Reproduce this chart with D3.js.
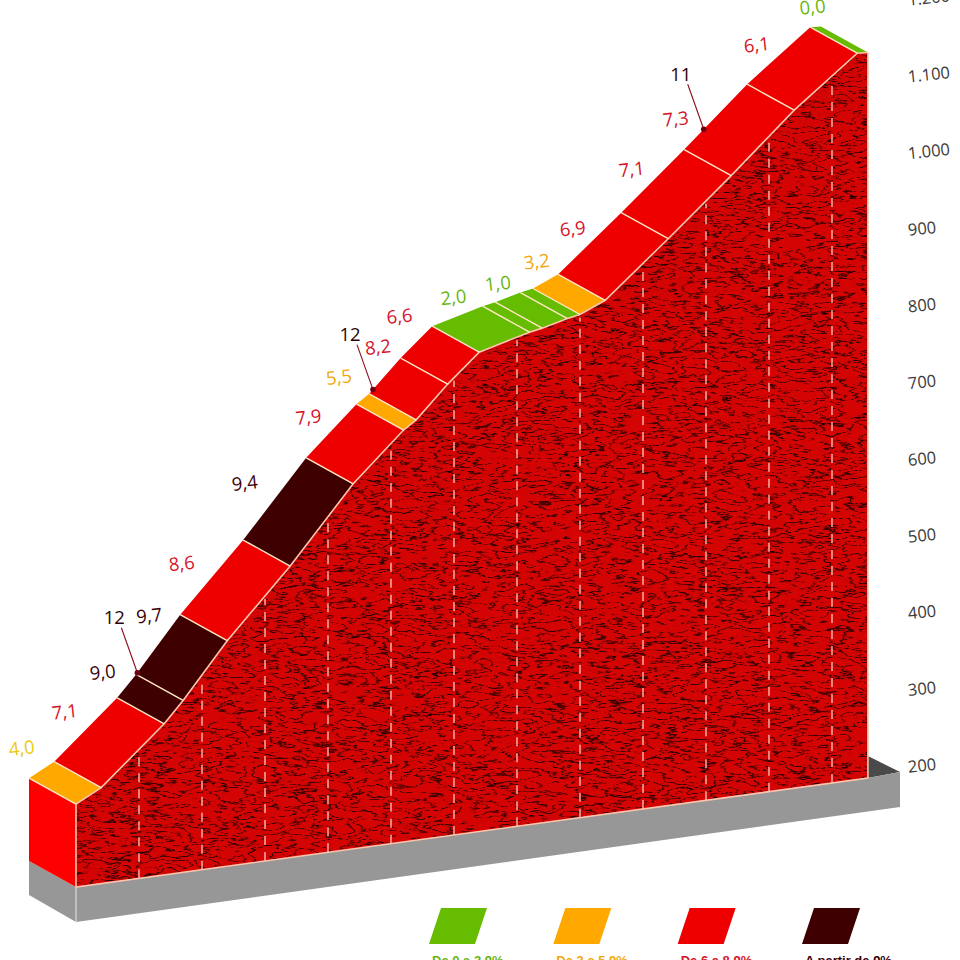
<!DOCTYPE html>
<html><head><meta charset="utf-8">
<script src="https://cdn.jsdelivr.net/npm/d3@7"></script>
<style>html,body{margin:0;padding:0;background:#fff;overflow:hidden}svg{display:block}</style>
</head><body><svg id="c" width="960" height="960"></svg>
<script>
// ---- data ----
const pointKm   = [0,0.4,1.4,1.7,2.4,3.4,4.4,5.2,5.4,5.9,6.4,7.2,7.4,7.8,8.0,8.4,9.4,10.4,11.4,12.4,12.57];
const pointElev = [308,325,397,424,494,580,676,737,748,789,825,842,845,853,856,870,939,1010,1084,1147,1146];
const gradeLabels = ["4,0","7,1","9,0","9,7","8,6","9,4","7,9","5,5","8,2","6,6","2,0","","1,0","","3,2","6,9","7,1","7,3","6,1","0,0"];
const gradeClass  = ["o","r","d","d","r","d","r","o","r","r","g","g","g","g","o","r","r","r","r","g"];
const kmTicks = [1,2,3,4,5,6,7,8,9,10,11,12];
const elevTicks = [200,300,400,500,600,700,800,900,1000,1100,1200];
const peakKm = [1.72,5.46,10.71];
const peakLabels = ["12","12","11"];
const legendLabels = ["De 0 a 2,9%","De 3 a 5,9%","De 6 a 8,9%","A partir de 9%"];
const legendClass = ["g","o","r","d"];

// ---- layout and style ----
const colors = {g:"#66bc00",o:"#ffa800",r:"#ee0000",d:"#3e0000"};
const textColors = {g:"#6ab510",o:"#f2a80c",r:"#d5142a",d:"#3a0208"};
const labelOffsets = [[-20,-22],[-21,-18],[-24,-14],[-9,-29],[-30,-14],[-30,-16],[-23,-14],[-24,-22],[-7,-29],[-17,-26],[-4,-19],[0,0],[-10,-14],[0,0],[-9,-20],[-17,-15],[-21,-12],[-40,2],[-22,-11],[-3,-20]];
const depth = [-47,-26];
const skew = -0.1376;
const edge = "#ffc4ac";

const x = d3.scaleLinear().domain([0,1]).range([76,139]);
const y = d3.scaleLinear().domain([200,1200]).range([887,120]);
const profile = d3.scaleLinear().domain(pointKm).range(pointElev);
const px = k => x(k);
const py = (k,e) => y(e) + skew*(x(k)-x(0));
const front = pointKm.map((k,i)=>[px(k),py(k,pointElev[i])]);
const back = p => [p[0]+depth[0],p[1]+depth[1]];
const endKm = pointKm[pointKm.length-1];
const baseA=[px(0),py(0,200)], baseB=[px(endKm),py(endKm,200)];
const poly = d3.line();
const closed = pts => poly(pts)+"Z";

const svg = d3.select("#c");
const defs = svg.append("defs");
const f = defs.append("filter").attr("id","rock").attr("x",0).attr("y",0).attr("width",1).attr("height",1)
  .attr("color-interpolation-filters","sRGB");
f.append("feTurbulence").attr("type","fractalNoise").attr("baseFrequency","0.028 0.10").attr("numOctaves",4).attr("seed",7).attr("result","n");
f.append("feColorMatrix").attr("in","n").attr("type","matrix")
  .attr("values","0 0 0 0 0  0 0 0 0 0  0 0 0 0 0  1.6 0 0 0 -0.3").attr("result","a");
f.append("feComponentTransfer").attr("in","a").attr("result","cr").append("feFuncA").attr("type","table")
  .attr("tableValues","0 0 0 0 0 0 0 0.15 0.95 0.2 0 0 0 0 0 0.1 0.8 0.1 0 0 0 0 0 0");
f.append("feFlood").attr("flood-color","#1a0000").attr("result","k");
f.append("feComposite").attr("in","k").attr("in2","cr").attr("operator","in").attr("result","ink");
const fm=f.append("feMerge");
fm.append("feMergeNode").attr("in","SourceGraphic");
fm.append("feMergeNode").attr("in","ink");

// base slab
svg.append("path").attr("d",closed([baseB,[900,772],[baseB[0],756]])).attr("fill","#4a4a4a");
svg.append("path").attr("d",closed([back(baseA),baseA,[baseA[0],922],[back(baseA)[0],895]])).attr("fill","#979797");
svg.append("path").attr("d",closed([baseA,baseB,[900,772],[900,807],[baseA[0],922]])).attr("fill","#979797");
svg.append("line").attr("x1",baseA[0]).attr("x2",baseA[0]).attr("y1",baseA[1]).attr("y2",922).attr("stroke","#e8e8e8").attr("stroke-width",1);

// left wall
svg.append("path").attr("d",closed([back(front[0]),front[0],baseA,back(baseA)])).attr("fill","#ff0000");

// main textured face
const facePts = [...front,baseB,baseA];
defs.append("clipPath").attr("id","face").append("path").attr("d",closed(facePts));
svg.append("g").attr("clip-path","url(#face)").append("rect")
  .attr("x",70).attr("y",40).attr("width",805).attr("height",860)
  .attr("fill","#d40404").attr("filter","url(#rock)");

// km dashes
svg.append("g").selectAll("line").data(kmTicks).join("line")
  .attr("x1",px).attr("x2",px)
  .attr("y1",k=>py(k,200)).attr("y2",k=>py(k,profile(k))+3)
  .attr("stroke","#ffb9ae").attr("stroke-width",1.4).attr("stroke-dasharray","9 7");

// edges of the face
svg.append("path").attr("d",poly([front[0],baseA,baseB,[baseB[0],front[front.length-1][1]]]))
  .attr("fill","none").attr("stroke",edge).attr("stroke-width",1.6);

// top strip
svg.append("g").selectAll("path").data(gradeClass).join("path")
  .attr("d",(c,i)=>closed([front[i],front[i+1],back(front[i+1]),back(front[i])]))
  .attr("fill",c=>colors[c]);
svg.append("path").attr("d",poly(front)).attr("fill","none").attr("stroke",edge).attr("stroke-width",1.6);
svg.append("g").selectAll("line").data(front.slice(0,-1)).join("line")
  .attr("x1",d=>d[0]).attr("y1",d=>d[1]).attr("x2",d=>back(d)[0]).attr("y2",d=>back(d)[1])
  .attr("stroke","#ffe6c4").attr("stroke-width",1.4);

// gradient labels
svg.append("g").selectAll("text").data(gradeLabels).join("text")
  .attr("transform",(t,i)=>{
    const m=back([(front[i][0]+front[i+1][0])/2,(front[i][1]+front[i+1][1])/2]);
    return `translate(${m[0]+labelOffsets[i][0]},${m[1]+labelOffsets[i][1]}) rotate(-6)`;
  })
  .attr("text-anchor","middle").attr("dy","0.36em")
  .attr("font-family","'Open Sans',sans-serif").attr("font-size",18.5)
  .attr("fill",(t,i)=>i===0?"#efc90e":textColors[gradeClass[i]])
  .text(t=>t);

// peak gradient call-outs
const peak = svg.append("g").selectAll("g").data(peakKm).join("g")
  .attr("transform",k=>{const b=back([px(k),py(k,profile(k))]);return `translate(${b[0]},${b[1]})`;});
peak.append("line").attr("x1",-16).attr("y1",-45).attr("x2",0).attr("y2",0).attr("stroke","#8c0a1c").attr("stroke-width",1.1);
peak.append("circle").attr("r",2.8).attr("fill","#6e0010");
peak.append("text").attr("x",-23).attr("y",-55).attr("text-anchor","middle").attr("dy","0.36em")
  .attr("font-family","'Open Sans',sans-serif").attr("font-size",18.5).attr("fill","#2c0206")
  .text((k,i)=>peakLabels[i]);

// elevation axis
const fmt = v => v>=1000 ? d3.format(",")(v).replace(",",".") : String(v);
const axis = d3.axisRight(y).tickValues(elevTicks).tickSize(0).tickPadding(3).tickFormat(fmt);
const ag = svg.append("g").attr("transform","translate(905,-120)").call(axis);
ag.select(".domain").remove();
ag.selectAll("text").attr("font-family","'Open Sans',sans-serif").attr("font-size",16.5).attr("fill","#3a3a3a")
  .attr("transform","rotate(-6 3 0)");

// legend
const lx = d3.scalePoint().domain(legendClass).range([429,802]);
const lg = svg.append("g").selectAll("g").data(legendClass).join("g")
  .attr("transform",c=>`translate(${lx(c)},908)`);
lg.append("path").attr("d",closed([[12,0],[58,0],[46,36],[0,36]])).attr("fill",c=>colors[c]);
lg.append("text").attr("x",3).attr("y",57).attr("font-family","'Liberation Sans',sans-serif").attr("font-weight","bold").attr("font-size",13)
  .attr("fill",c=>textColors[c]).text((c,i)=>legendLabels[i]);
</script></body></html>
